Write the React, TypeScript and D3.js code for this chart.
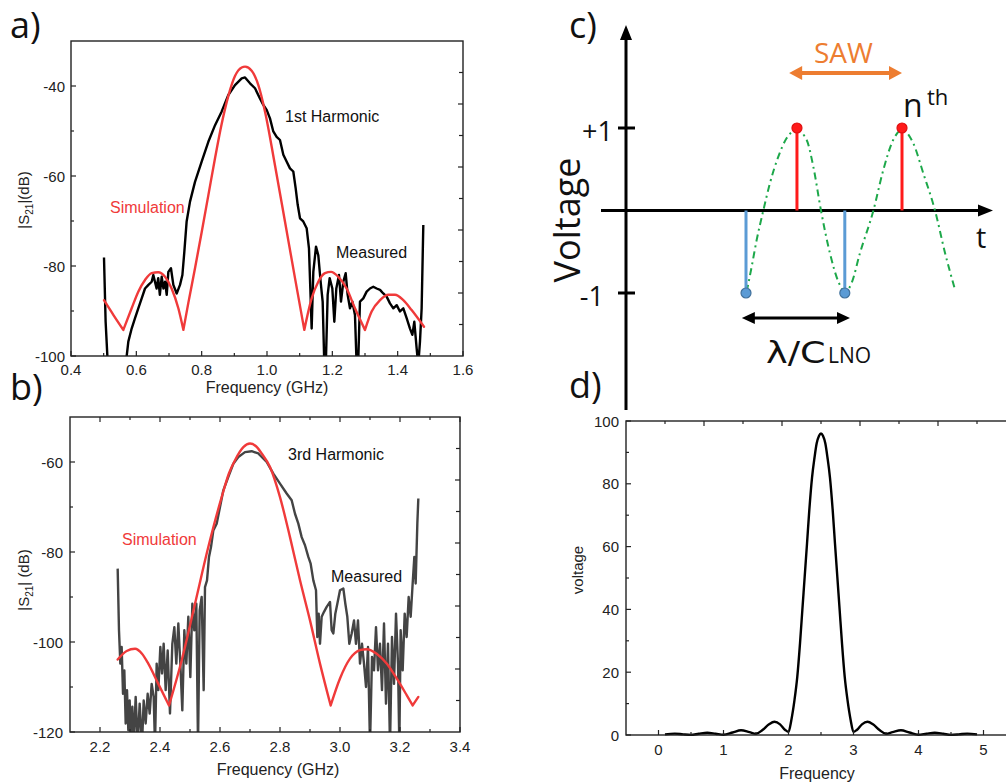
import React from "react";
import * as d3 from "d3";

type Pt = [number, number];

// ---------------- Panel a : 1st harmonic ----------------
const aXTicks = [0.4, 0.6, 0.8, 1.0, 1.2, 1.4, 1.6];
const aXMinor = [0.5, 0.7, 0.9, 1.1, 1.3, 1.5];
const aYTicks = [-40, -60, -80, -100];
const aYMinor = [-50, -70, -90];
const aSimulation: Pt[] = [
  [0.501, -87.6], [0.53, -90.9], [0.5602, -94.2], [0.5857, -89.4], [0.606, -85.7], [0.6266, -83.1],
  [0.647, -81.6], [0.667, -81.4], [0.6878, -82.4], [0.708, -85], [0.7286, -89.4], [0.744, -94.2],
  [0.7592, -88.2], [0.7796, -80.5], [0.8, -72.5], [0.8204, -64.3], [0.841, -56], [0.861, -48.5],
  [0.8817, -42.2], [0.902, -37.8], [0.9225, -35.9], [0.933, -35.7], [0.953, -36.6], [0.9735, -39.8],
  [0.994, -45.7], [1.0244, -57.6], [1.055, -70.1], [1.0857, -82.7], [1.1142, -94.2], [1.1367, -87.2],
  [1.157, -83.5], [1.1775, -81.6], [1.196, -81.3], [1.2183, -82.4], [1.2438, -85], [1.2693, -89.4],
  [1.2999, -94.2], [1.3203, -90.1], [1.346, -87.6], [1.3714, -86.4], [1.3918, -86.4], [1.4173, -87.6],
  [1.4428, -89.8], [1.4806, -93.5],
];
const aMeasured: Pt[] = [
  [0.501, -78.1], [0.506, -92.4], [0.512, -101], [0.52, -106], [0.56, -106], [0.5705, -100],
  [0.5755, -96.8], [0.5857, -93.9], [0.596, -91.6], [0.606, -89.4], [0.6164, -87.2], [0.6266, -85],
  [0.637, -84.2], [0.647, -83.5], [0.652, -82], [0.662, -85], [0.667, -82.7], [0.672, -86.4],
  [0.6776, -82.4], [0.683, -85], [0.688, -83.5], [0.693, -86.4], [0.698, -81.3], [0.706, -80.5],
  [0.7133, -84.2], [0.7235, -86.1], [0.7337, -84.2], [0.741, -82], [0.747, -76.8], [0.754, -70.1],
  [0.7643, -65.7], [0.7796, -61.3], [0.8, -56.8], [0.8204, -52.4], [0.841, -48.7], [0.861, -45.7],
  [0.8817, -42], [0.902, -39.8], [0.9225, -38.3], [0.9327, -38.1], [0.948, -39.4], [0.9633, -40.5],
  [0.978, -42.7], [0.9887, -44.2], [0.999, -45.3], [1.0091, -47.2], [1.0193, -50.1], [1.0295, -51.3],
  [1.0397, -52], [1.05, -55.3], [1.06, -56.8], [1.0703, -58.3], [1.0805, -59], [1.0877, -62.7],
  [1.094, -66.4], [1.101, -69.4], [1.111, -70.1], [1.1214, -71.6], [1.1285, -76.1], [1.1326, -85],
  [1.1367, -93.9], [1.1418, -81.3], [1.15, -75.7], [1.157, -77.6], [1.1642, -83.5], [1.1704, -87.9],
  [1.1755, -102], [1.18, -102], [1.1857, -86.4], [1.1918, -82.7], [1.2, -85], [1.2061, -92.4],
  [1.2122, -85], [1.2204, -82], [1.2265, -87.9], [1.2336, -83.5], [1.2408, -81.6], [1.2469, -86.4],
  [1.254, -89.4], [1.2612, -87.9], [1.2693, -90.9], [1.2744, -102], [1.279, -102], [1.2846, -87.9],
  [1.2948, -87.2], [1.305, -85.7], [1.3152, -85], [1.3255, -84.6], [1.3357, -85], [1.346, -85.3],
  [1.356, -86.1], [1.3663, -86.8], [1.3765, -88.3], [1.3867, -89.4], [1.397, -88.7], [1.407, -90.1],
  [1.4173, -89.4], [1.4275, -91.6], [1.4377, -93.9], [1.445, -95.3], [1.451, -92.4], [1.4581, -98.3],
  [1.463, -102], [1.4683, -96.8], [1.4734, -89.4], [1.4785, -70.9],
];

// ---------------- Panel b : 3rd harmonic ----------------
const bXTicks = [2.2, 2.4, 2.6, 2.8, 3.0, 3.2, 3.4];
const bXMinor = [2.3, 2.5, 2.7, 2.9, 3.1, 3.3];
const bYTicks = [-60, -80, -100, -120];
const bYMinor = [-70, -90, -110];
const bSimulation: Pt[] = [
  [2.2589, -103.9], [2.2889, -102], [2.3167, -101.5], [2.34, -102.6], [2.361, -104.8], [2.3944, -109.3],
  [2.43, -114.1], [2.4722, -104.1], [2.5167, -91.5], [2.561, -78.9], [2.6056, -67.8], [2.63, -62.5],
  [2.65, -59.6], [2.6778, -56.7], [2.7, -55.9], [2.72, -56.5], [2.7389, -58.1], [2.7667, -61.1],
  [2.8, -67.8], [2.8333, -76.7], [2.8667, -86.3], [2.9, -95.2], [2.9333, -104.8], [2.9689, -114.1],
  [3.0, -108.1], [3.0333, -103.7], [3.0667, -101.8], [3.0889, -101.6], [3.1222, -102.6], [3.1556, -104.8],
  [3.1889, -108.1], [3.2222, -111.8], [3.2422, -114.1], [3.2611, -112.2],
];
const bMeasured: Pt[] = [
  [2.2589, -83.7], [2.2633, -97.4], [2.2678, -104.8], [2.2722, -101.1], [2.2767, -111.5], [2.2811, -106.3],
  [2.2856, -118.1], [2.29, -110.7], [2.2944, -119.6], [2.2989, -113], [2.3033, -123], [2.3078, -114.4],
  [2.3122, -123], [2.3189, -112.2], [2.3256, -123], [2.3322, -113.7], [2.34, -123], [2.3456, -113],
  [2.3522, -118.1], [2.3589, -111.5], [2.3656, -115.9], [2.3722, -109.3], [2.3789, -112.2], [2.3833, -123],
  [2.3889, -104.8], [2.3944, -110.7], [2.4011, -101.1], [2.4067, -107], [2.4122, -100.4], [2.4189, -110.7],
  [2.4256, -101.9], [2.4333, -115.9], [2.4411, -100.4], [2.4478, -96.7], [2.4544, -104.8], [2.4611, -95.9],
  [2.4678, -104.8], [2.4744, -115.2], [2.4811, -97.4], [2.4878, -104.8], [2.4944, -94.4], [2.5011, -107.8],
  [2.5078, -91.5], [2.5144, -97.4], [2.5211, -91.5], [2.5267, -123], [2.5322, -93], [2.5389, -90],
  [2.5456, -110.7], [2.55, -87.8], [2.5567, -86.3], [2.5633, -81.1], [2.57, -78.9], [2.5778, -75.2],
  [2.5889, -73.7], [2.6, -70], [2.6111, -66.3], [2.6278, -63.3], [2.6444, -60.4], [2.6611, -58.9],
  [2.6833, -57.8], [2.7056, -57.6], [2.7278, -58.1], [2.7333, -58.5], [2.7556, -60], [2.7778, -62.6],
  [2.8, -64.8], [2.8222, -67], [2.8389, -68.5], [2.85, -71.5], [2.8611, -73.7], [2.8722, -76.7],
  [2.8833, -78.5], [2.8944, -81.1], [2.9022, -82.6], [2.9111, -86.3], [2.92, -88.5], [2.9244, -98.9],
  [2.9289, -93.7], [2.9333, -100.4], [2.9389, -94.4], [2.9467, -93.3], [2.9556, -92.2], [2.9667, -91.1],
  [2.9722, -97.4], [2.9778, -98.1], [2.9844, -93.7], [2.9911, -91.5], [3.0, -88.5], [3.0111, -88.1],
  [3.0178, -91.5], [3.0244, -94.4], [3.0311, -100.4], [3.0389, -98.1], [3.0467, -95.2], [3.0533, -100.4],
  [3.06, -95.2], [3.0667, -104.8], [3.0733, -100.4], [3.08, -104.8], [3.0867, -110], [3.0933, -101.1],
  [3.1, -123], [3.1067, -103.3], [3.1133, -106.3], [3.12, -96.7], [3.1267, -106.3], [3.1333, -100.4],
  [3.14, -110.7], [3.1467, -95.9], [3.1533, -113.7], [3.16, -100.4], [3.1667, -123], [3.1733, -98.9],
  [3.18, -109.3], [3.1867, -93.7], [3.1933, -104.8], [3.1978, -123], [3.2022, -97.4], [3.2089, -106.3],
  [3.2156, -93.7], [3.2222, -98.9], [3.2289, -90], [3.2356, -94.4], [3.2422, -87], [3.2478, -81.1],
  [3.2522, -87], [3.2578, -73.7], [3.2611, -68.1],
];

// ---------------- Panel c : schematic ----------------
const cStemTimes = [0, 0.98, 1.9, 3.0];
const cStemVolts = [-1, 1, -1, 1];
const cYTickValues = [1, -1];
const cYTickLabels = ["+1", "-1"];
const cWave: Pt[] = [
  [0.013, -0.984], [0.109, -0.681], [0.205, -0.358], [0.333, 0], [0.46, 0.33], [0.62, 0.65],
  [0.78, 0.875], [0.975, 0.976], [1.167, 0.855], [1.295, 0.53], [1.442, 0], [1.615, -0.52],
  [1.775, -0.86], [1.91, -0.984], [2.03, -0.88], [2.19, -0.52], [2.45, 0], [2.64, 0.49],
  [2.83, 0.855], [3.006, 0.976], [3.22, 0.81], [3.41, 0.45], [3.635, 0], [3.83, -0.52], [4.02, -0.96],
];
const cSawArrow = [0.83, 3.0];
const cLambdaArrow = [-0.08, 2.0];

// ---------------- Panel d : spectrum ----------------
const dXTicks = [0, 1, 2, 3, 4, 5];
const dXMinor = [0.5, 1.5, 2.5, 3.5, 4.5];
const dYTicks = [0, 20, 40, 60, 80, 100];
const dYMinor = [10, 30, 50, 70, 90];
const dTopTicks = [0.1, 0.7, 1.3, 1.9, 2.5, 3.1, 3.7, 4.3, 4.9];
const dSpectrum: Pt[] = [
  [0.1, 0.2], [0.25, 0.45], [0.38, 0.2], [0.5, 0.05], [0.62, 0.4], [0.75, 0.7], [0.88, 0.4],
  [1.0, 0.1], [1.14, 0.8], [1.27, 1.5], [1.4, 0.9], [1.5, 0.4], [1.6, 1.6], [1.7, 3.4],
  [1.785, 4.2], [1.87, 3.4], [1.95, 1.6], [2.0, 1.0], [2.044, 4.8], [2.092, 11.1], [2.135, 18.5],
  [2.177, 29.2], [2.213, 39.8], [2.249, 50.4], [2.285, 61], [2.32, 71.6], [2.362, 82], [2.4, 88.3],
  [2.433, 92.8], [2.47, 95.3], [2.5, 96], [2.53, 95.3], [2.567, 92.8], [2.6, 88.3], [2.638, 82],
  [2.68, 71.6], [2.715, 61], [2.751, 50.4], [2.787, 39.8], [2.823, 29.2], [2.865, 18.5], [2.908, 11.1],
  [2.956, 4.8], [3.0, 1.0], [3.05, 1.6], [3.13, 3.4], [3.215, 4.2], [3.3, 3.4], [3.4, 1.6],
  [3.5, 0.4], [3.6, 0.9], [3.73, 1.5], [3.86, 0.8], [4.0, 0.1], [4.12, 0.4], [4.25, 0.7],
  [4.38, 0.4], [4.5, 0.05], [4.62, 0.2], [4.75, 0.45], [4.9, 0.2],
];

const PLOT_FONT = "'Liberation Sans', Arial, Helvetica, sans-serif";
const DIAG_FONT = "'Open Sans', 'Noto Sans', sans-serif";
const RED = "#F03A3A";
const AX = "#222";

// split a curve into lobes at its local minima (cusps stay sharp)
function splitAtDips(pts: Pt[]): Pt[][] {
  const segs: Pt[][] = [];
  let cur: Pt[] = [pts[0]];
  for (let i = 1; i < pts.length; i++) {
    cur.push(pts[i]);
    if (i < pts.length - 1 && pts[i][1] < pts[i - 1][1] && pts[i][1] < pts[i + 1][1]) {
      segs.push(cur);
      cur = [pts[i]];
    }
  }
  segs.push(cur);
  return segs;
}

type DbProps = {
  left: number; right: number; top: number; bottom: number;
  xDomain: [number, number]; yDomain: [number, number];
  xTicks: number[]; xMinor: number[]; yTicks: number[]; yMinor: number[];
  sim: Pt[]; meas: Pt[]; measColor: string; clipId: string;
  yLabelSpace: boolean; yLabelCy: number; xLabelCx: number;
  xTickBase: number; xLabelBase: number; yTickRight: number;
  harmonic: string; harmonicPos: [number, number];
  simPos: [number, number]; measPos: [number, number];
  topTicks: boolean;
};

function DbPanel(p: DbProps) {
  const x = d3.scaleLinear().domain(p.xDomain).range([p.left, p.right]);
  const y = d3.scaleLinear().domain(p.yDomain).range([p.bottom, p.top]);
  const r = d3.scaleLinear().domain([0, 10]).range([p.bottom, p.top]);
  const smooth = d3.line<Pt>().x((d) => x(d[0])).y((d) => y(d[1])).curve(d3.curveMonotoneX);
  const raw = d3.line<Pt>().x((d) => x(d[0])).y((d) => y(d[1]));
  const simPath = splitAtDips(p.sim).map((s) => smooth(s) || "").join("");
  const fmtX = d3.format(".1f");
  return (
    <g fontFamily={PLOT_FONT}>
      <defs>
        <clipPath id={p.clipId}>
          <rect x={p.left} y={p.top} width={p.right - p.left} height={p.bottom - p.top} />
        </clipPath>
      </defs>
      <g clipPath={`url(#${p.clipId})`}>
        <path d={raw(p.meas) || ""} fill="none" stroke={p.measColor} strokeWidth={2.4} strokeLinejoin="round" />
        <path d={simPath} fill="none" stroke={RED} strokeWidth={2.4} strokeLinejoin="round" strokeLinecap="round" />
      </g>
      <rect x={p.left} y={p.top} width={p.right - p.left} height={p.bottom - p.top} fill="none" stroke={AX} strokeWidth={1.4} />
      {p.xTicks.map((t) => (
        <g key={"xt" + t}>
          <line x1={x(t)} x2={x(t)} y1={p.bottom} y2={p.bottom - 5} stroke={AX} strokeWidth={1.2} />
          {p.topTicks && <line x1={x(t)} x2={x(t)} y1={p.top} y2={p.top + 5} stroke={AX} strokeWidth={1.2} />}
          <text x={x(t)} y={p.xTickBase} textAnchor="middle" fontSize={15} fill={AX}>{fmtX(t)}</text>
        </g>
      ))}
      {p.xMinor.map((t) => (
        <g key={"xm" + t}>
          <line x1={x(t)} x2={x(t)} y1={p.bottom} y2={p.bottom - 3} stroke={AX} strokeWidth={1.2} />
          {p.topTicks && <line x1={x(t)} x2={x(t)} y1={p.top} y2={p.top + 3} stroke={AX} strokeWidth={1.2} />}
        </g>
      ))}
      {p.yTicks.map((t) => (
        <g key={"yt" + t}>
          <line x1={p.left} x2={p.left + 5} y1={y(t)} y2={y(t)} stroke={AX} strokeWidth={1.2} />
          <text x={p.yTickRight} y={y(t) + 5.5} textAnchor="end" fontSize={15} fill={AX}>{String(t)}</text>
        </g>
      ))}
      {p.yMinor.map((t) => (
        <line key={"ym" + t} x1={p.left} x2={p.left + 3} y1={y(t)} y2={y(t)} stroke={AX} strokeWidth={1.2} />
      ))}
      {d3.range(1, 10).map((i) => (
        <line key={"rt" + i} x1={p.right} x2={p.right - (i % 2 === 0 ? 5 : 4)} y1={r(i)} y2={r(i)} stroke={AX} strokeWidth={1.2} />
      ))}
      <text x={p.xLabelCx} y={p.xLabelBase} textAnchor="middle" fontSize={16} fill={AX}>Frequency (GHz)</text>
      <text transform={`translate(29,${p.yLabelCy}) rotate(-90)`} textAnchor="middle" fontSize={15} fill={AX}>
        |S<tspan fontSize={10} dy={4}>21</tspan><tspan dy={-4}>{p.yLabelSpace ? "| (dB)" : "|(dB)"}</tspan>
      </text>
      <text x={p.harmonicPos[0]} y={p.harmonicPos[1]} fontSize={16} fill="#111">{p.harmonic}</text>
      <text x={p.simPos[0]} y={p.simPos[1]} fontSize={16} fill={RED}>Simulation</text>
      <text x={p.measPos[0]} y={p.measPos[1]} fontSize={16} fill="#111">Measured</text>
    </g>
  );
}

function PanelC() {
  const t = d3.scaleLinear().domain([0, 3]).range([746, 902]);
  const v = d3.scaleLinear().domain([-1, 1]).range([293, 128]);
  const x0 = 626;
  const y0 = v(0);
  const wave = d3.line<Pt>().x((d) => t(d[0])).y((d) => v(d[1])).curve(d3.curveMonotoneX);
  const left = 601, right = 993, topY = 25, botY = 410;
  const sawY = 73;
  const lamY = 318;
  const dbl = (xa: number, xb: number, yy: number, hl: number, hw: number) =>
    `M${xa},${yy} L${xa + hl},${yy - hw} L${xa + hl},${yy + hw} Z M${xb},${yy} L${xb - hl},${yy - hw} L${xb - hl},${yy + hw} Z`;
  return (
    <g fontFamily={DIAG_FONT}>
      <line x1={x0} x2={x0} y1={botY} y2={topY + 10} stroke="#000" strokeWidth={3} />
      <path d={`M${x0},${topY} L${x0 - 6},${topY + 15} L${x0 + 6},${topY + 15} Z`} fill="#000" />
      <line x1={left} x2={right - 10} y1={y0} y2={y0} stroke="#000" strokeWidth={3} />
      <path d={`M${right},${y0} L${right - 15},${y0 - 6} L${right - 15},${y0 + 6} Z`} fill="#000" />
      {cYTickValues.map((val, i) => (
        <g key={"ct" + i}>
          <line x1={x0 - 8} x2={x0 + 9} y1={v(val)} y2={v(val)} stroke="#000" strokeWidth={3} />
          <text x={i === 0 ? 613 : 604} y={v(val) + 13} textAnchor="end" fontSize={27} fill="#111">{cYTickLabels[i]}</text>
        </g>
      ))}
      <path d={wave(cWave) || ""} fill="none" stroke="#1DA84A" strokeWidth={2} strokeDasharray="7 4 2 4" />
      {cStemTimes.map((tt, i) => {
        const pos = cStemVolts[i] > 0;
        return (
          <g key={"st" + i}>
            <line x1={t(tt)} x2={t(tt)} y1={y0} y2={v(cStemVolts[i])} stroke={pos ? "#FF1A1A" : "#5B9BD5"} strokeWidth={3} />
            <circle cx={t(tt)} cy={v(cStemVolts[i])} r={5} fill={pos ? "#FF1A1A" : "#5B9BD5"} stroke={pos ? "#E01010" : "#41719C"} strokeWidth={1.2} />
          </g>
        );
      })}
      <line x1={t(cSawArrow[0]) + 10} x2={t(cSawArrow[1]) - 10} y1={sawY} y2={sawY} stroke="#ED7D31" strokeWidth={4} />
      <path d={dbl(t(cSawArrow[0]), t(cSawArrow[1]), sawY, 13, 7)} fill="#ED7D31" />
      <text x={814} y={63} fontSize={28} fill="#ED7D31">SAW</text>
      <line x1={t(cLambdaArrow[0]) + 10} x2={t(cLambdaArrow[1]) - 10} y1={lamY} y2={lamY} stroke="#000" strokeWidth={3} />
      <path d={dbl(t(cLambdaArrow[0]), t(cLambdaArrow[1]), lamY, 13, 6)} fill="#000" />
      <text transform="translate(766,363) scale(1.22,1)" fontSize={30} fill="#111" fontFamily="'DejaVu Sans', 'Noto Sans', sans-serif">λ/C</text>
      <text x={828} y={363} fontSize={21} fill="#111">LNO</text>
      <text x={903} y={117} fontSize={32} fill="#111">n</text>
      <text x={927} y={105} fontSize={22} fill="#111">th</text>
      <text x={976} y={248} fontSize={29} fill="#111">t</text>
      <text transform="translate(580,220) rotate(-90)" textAnchor="middle" fontSize={36} fill="#111">Voltage</text>
    </g>
  );
}

function PanelD() {
  const left = 626, top = 421, bottom = 735;
  const x = d3.scaleLinear().domain([-0.5, 5.5]).range([left, left + 390]);
  const y = d3.scaleLinear().domain([0, 100]).range([bottom, top]);
  const line = d3.line<Pt>().x((d) => x(d[0])).y((d) => y(d[1])).curve(d3.curveMonotoneX);
  const rightEdge = x(5.5);
  return (
    <g fontFamily={PLOT_FONT}>
      <path d={line(dSpectrum) || ""} fill="none" stroke="#000" strokeWidth={2.4} strokeLinejoin="round" />
      <rect x={left} y={top} width={rightEdge - left} height={bottom - top} fill="none" stroke={AX} strokeWidth={1.4} />
      {dXTicks.map((t) => (
        <g key={"dx" + t}>
          <line x1={x(t)} x2={x(t)} y1={bottom} y2={bottom - 5} stroke={AX} strokeWidth={1.2} />
          <text x={x(t)} y={755} textAnchor="middle" fontSize={15} fill={AX}>{String(t)}</text>
        </g>
      ))}
      {dXMinor.map((t) => (
        <line key={"dm" + t} x1={x(t)} x2={x(t)} y1={bottom} y2={bottom - 3} stroke={AX} strokeWidth={1.2} />
      ))}
      {dTopTicks.map((t, i) => (
        <line key={"dtt" + t} x1={x(t)} x2={x(t)} y1={top} y2={top + (i % 2 === 1 ? 5 : 3)} stroke={AX} strokeWidth={1.2} />
      ))}
      {dYTicks.map((t) => (
        <g key={"dy" + t}>
          <line x1={left} x2={left + 5} y1={y(t)} y2={y(t)} stroke={AX} strokeWidth={1.2} />
          <text x={619} y={y(t) + 5.5} textAnchor="end" fontSize={15} fill={AX}>{String(t)}</text>
        </g>
      ))}
      {dYMinor.map((t) => (
        <line key={"dym" + t} x1={left} x2={left + 3} y1={y(t)} y2={y(t)} stroke={AX} strokeWidth={1.2} />
      ))}
      <text x={817} y={779} textAnchor="middle" fontSize={16} fill={AX}>Frequency</text>
      <text transform="translate(583,570) rotate(-90)" textAnchor="middle" fontSize={15} fill={AX}>voltage</text>
    </g>
  );
}

export default function App() {
  return (
    <div style={{ position: "absolute", left: 0, top: 0 }}>
      <svg width={1006} height={784} viewBox="0 0 1006 784" style={{ display: "block", background: "#fff" }}>
        <rect x={0} y={0} width={1006} height={784} fill="#fff" />
        <DbPanel
          left={71} right={463} top={41} bottom={356}
          xDomain={[0.4, 1.6]} yDomain={[-100, -30]}
          xTicks={aXTicks} xMinor={aXMinor} yTicks={aYTicks} yMinor={aYMinor}
          sim={aSimulation} meas={aMeasured} measColor="#000" clipId="clipA"
          yLabelSpace={false} yLabelCy={200} xLabelCx={267}
          xTickBase={375} xLabelBase={393} yTickRight={65}
          harmonic="1st Harmonic" harmonicPos={[285, 122]}
          simPos={[110, 213]} measPos={[336, 258]} topTicks={false}
        />
        <DbPanel
          left={70} right={460} top={417} bottom={732}
          xDomain={[2.1, 3.4]} yDomain={[-120, -50]}
          xTicks={bXTicks} xMinor={bXMinor} yTicks={bYTicks} yMinor={bYMinor}
          sim={bSimulation} meas={bMeasured} measColor="#444" clipId="clipB"
          yLabelSpace={true} yLabelCy={580} xLabelCx={278}
          xTickBase={752} xLabelBase={775} yTickRight={63}
          harmonic="3rd Harmonic" harmonicPos={[288, 460]}
          simPos={[122, 545]} measPos={[331, 582]} topTicks={true}
        />
        <PanelC />
        <PanelD />
        <g fontFamily={DIAG_FONT} fontSize={36} fill="#111">
          <text x={10} y={38}>a)</text>
          <text x={10} y={400}>b)</text>
          <text x={569} y={38}>c)</text>
          <text x={569} y={398}>d)</text>
        </g>
      </svg>
    </div>
  );
}
